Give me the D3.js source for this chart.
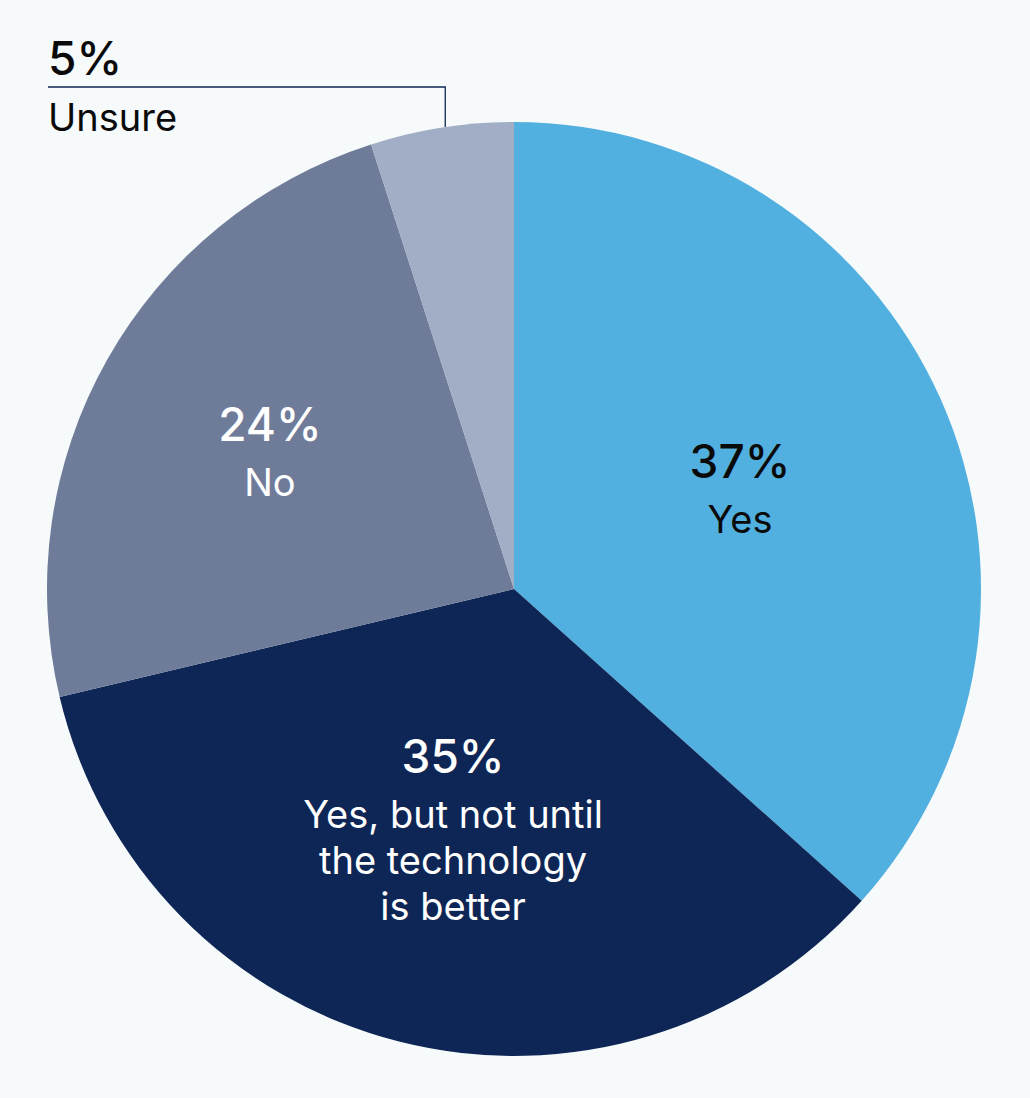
<!DOCTYPE html>
<html><head><meta charset="utf-8">
<script src="https://cdn.jsdelivr.net/npm/d3@7"></script>
<style>
html,body{margin:0;padding:0;background:#F6FAFB;}
svg{display:block;}
text{font-family:Inter,"Noto Sans",sans-serif;}
</style></head>
<body>
<svg id="chart" width="1030" height="1098"></svg>
<script>
const categories = ["Yes", "Yes, but not until the technology is better", "No", "Unsure"];
const values = [37, 35, 24, 5];
const labelLines = [["Yes"], ["Yes, but not until", "the technology", "is better"], ["No"], ["Unsure"]];
const colors = ["#52B0E0", "#0E2656", "#6F7C99", "#A1AEC6"];
const textColors = ["#0A0A0A", "#FFFFFF", "#FFFFFF", "#0A0A0A"];

const W = 1030, H = 1098;
const cx = 514, cy = 589, R = 467;
const svg = d3.select("#chart");
svg.append("rect").attr("width", W).attr("height", H).attr("fill", "#F6FAFB");

const pie = d3.pie().sort(null).value(d => d);
const arcs = pie(values);
const arc = d3.arc().innerRadius(0).outerRadius(R);

const g = svg.append("g").attr("transform", `translate(${cx},${cy})`);
g.selectAll("path").data(arcs).join("path")
  .attr("d", arc)
  .attr("fill", (d, i) => colors[i]);

const labelR = [0.53, 0.53, 0.6, 0.53];
const pctSize = 46, lblSize = 38, capH = 35, firstGap = 55, lineGap = 46;

arcs.forEach((a, i) => {
  const mid = (a.startAngle + a.endAngle) / 2;
  if (i === 3) {
    // external label with leader line
    const ang = a.startAngle + (a.endAngle - a.startAngle) * 0.525;
    const ex = R * Math.sin(ang), ey = -R * Math.cos(ang);
    const lineY = 87 - cy;
    const leftX = 48 - cx;
    g.append("path")
      .attr("d", `M${leftX},${lineY}H${ex}V${ey}`)
      .attr("fill", "none").attr("stroke", "#0E2656").attr("stroke-width", 1.3);
    g.append("text").attr("x", leftX).attr("y", 75 - cy)
      .attr("font-size", pctSize).attr("font-weight", 500).attr("fill", "#0A0A0A")
      .text(values[i] + "%");
    g.append("text").attr("x", leftX).attr("y", 131 - cy)
      .attr("font-size", lblSize).attr("font-weight", 400).attr("fill", "#0A0A0A")
      .text(labelLines[i][0]);
    return;
  }
  const r = R * labelR[i];
  const px = r * Math.sin(mid), py = -r * Math.cos(mid);
  const n = labelLines[i].length;
  const blockH = capH + firstGap + (n - 1) * lineGap;
  const top = py - blockH / 2;
  const t = g.append("g").attr("fill", textColors[i]).attr("text-anchor", "middle");
  t.append("text").attr("x", px).attr("y", top + capH)
    .attr("font-size", pctSize).attr("font-weight", 500)
    .text(values[i] + "%");
  labelLines[i].forEach((ln, j) => {
    t.append("text").attr("x", px).attr("y", top + capH + firstGap + j * lineGap)
      .attr("font-size", lblSize).attr("font-weight", 400)
      .text(ln);
  });
});
</script>
</body></html>
